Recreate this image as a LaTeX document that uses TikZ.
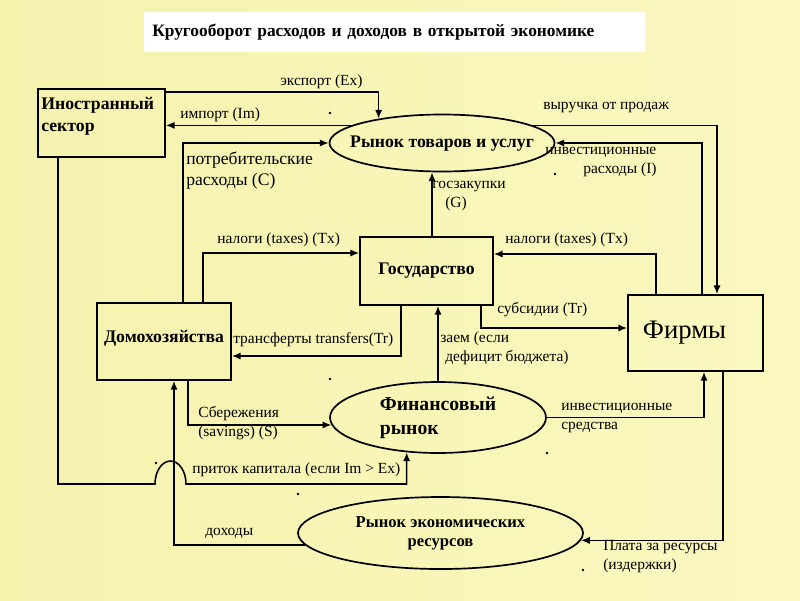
\documentclass[tikz,border=0pt]{standalone}
\usepackage{fontspec}
\setmainfont{Liberation Serif}
\usetikzlibrary{arrows.meta, positioning, calc, shapes.geometric}
\newdimen\px \px=0.025cm
\newcommand{\ovaltext}[2][c]{\makebox[0pt]{\begin{tabular}{@{}#1@{}}#2\end{tabular}}}

\begin{document}
\begin{tikzpicture}[
      x=0.025cm, y=-0.025cm,
      box/.style={rectangle, draw, line width=1.2pt, inner sep=2pt},
      market/.style={ellipse, draw, line width=1.2pt, inner sep=0pt},
      head/.style={font=\fontsize{12.6}{14.5}\selectfont\bfseries},
      lbl/.style={font=\fontsize{11}{13.5}\selectfont, anchor=west,
        align=left, inner sep=0pt},
      arrow/.style={-{Latex[length=2.2mm, width=1.8mm]}, line width=1.1pt}
    ]
    \useasboundingbox (0,0) rectangle (800,600);
    \shade[left color={rgb,255:red,246;green,242;blue,174},
           middle color={rgb,255:red,253;green,252;blue,222},
           right color={rgb,255:red,250;green,248;blue,192}] (0,0) rectangle (800,600);

    % ---- title ----
    \node[fill=white, anchor=north west, minimum width=501\px, minimum height=40\px,
          text width=485\px, inner xsep=8\px, align=left,
          font=\fontsize{12.35}{14}\selectfont\bfseries] (title) at (144,12)
      {Кругооборот расходов и доходов в открытой экономике};

    % ---- sectors and markets ----
    \node[box, minimum width=127\px, minimum height=68\px] (forn) at (101.5,123) {};
    \node[anchor=west, align=left, inner sep=0pt,
          font=\fontsize{12.6}{16}\selectfont\bfseries] (forn-txt) at (41,116.5)
      {Иностранный\\сектор};
    \node[market, minimum width=225\px, minimum height=57\px, head] (goods) at (442,143)
      {\ovaltext{Рынок товаров и услуг}};
    \node[box, minimum width=133\px, minimum height=68\px, head] (gov) at (426.5,271)
      {Государство};
    \node[box, minimum width=134\px, minimum height=77\px, head, text depth=10\px]
      (hh) at (164,341.5) {Домохозяйства};
    \node[box, minimum width=135\px, minimum height=76\px,
          font=\fontsize{19}{21}\selectfont] (firms) at (695.5,333)
      {Фирмы\kern22\px};
    \node[market, minimum width=216\px, minimum height=71\px,
          font=\fontsize{14}{17}\selectfont\bfseries] (fin) at (438,417.5)
      {\ovaltext[l]{Финансовый\\рынок}};
    \node[market, minimum width=285\px, minimum height=72\px,
          font=\fontsize{11.8}{14}\selectfont\bfseries] (res) at (440.5,533)
      {\ovaltext{Рынок экономических\\ресурсов}};

    % ---- flows round the goods market ----
    \draw[arrow] ($(forn.north east)+(0,4)$) -| (goods.159);
    \draw[arrow] (goods.169) -- (goods.169 -| forn.east);
    \draw[arrow] ($(hh.north)+(19,0)$) |- (goods.west);
    \draw[arrow] ($(gov.north)+(5.5,0)$) -- ($(goods.south)+(-10,0)$);
    \draw[arrow] (goods.11) -| ($(firms.north)+(21.5,0)$);
    \draw[arrow] ($(firms.north)+(6.5,0)$) |- (goods.east);

    % ---- government ----
    \draw[arrow] ($(hh.north)+(39,0)$) |- ($(gov.west)+(0,-18)$);
    \draw[arrow] ($(firms.north)+(-39.5,0)$) |- ($(gov.east)+(0,-17)$);
    \draw[arrow] ($(gov.south)+(54.5,0)$) |- ($(firms.west)+(0,-5)$);
    \draw[arrow] ($(gov.south)+(-25.5,0)$) |- ($(hh.east)+(0,14.5)$);
    \draw[arrow] (fin.north) -- (fin.north |- gov.south);

    % ---- financial market ----
    \draw[arrow] ($(hh.south)+(24,0)$) |- (fin.184);
    \draw[arrow] (fin.east) -| ($(firms.south)+(8.5,0)$);
    % capital inflow hops over the income line
    \coordinate (hop) at (155,484);
    \draw[arrow] ($(forn.south)+(-43.5,0)$) |- (hop)
      arc[start angle=180, end angle=0, x radius=15.5\px, y radius=23\px]
      -- (hop -| fin.228) -- (fin.228);

    % ---- resource market ----
    \draw[arrow] (res.185) -| ($(hh.south)+(10,0)$);
    \draw[arrow] ($(firms.south)+(27.5,0)$) |- (res.357);

    % ---- labels ----
    \node[lbl] (l-ex)   at (280,82)    {экспорт (Ex)};
    \node[lbl] (l-im)   at (180,115)   {импорт (Im)};
    \node[lbl, font=\fontsize{12.5}{15}\selectfont] (l-c) at (186,170.5)
      {потребительские\\расходы (C)};
    \node[lbl] (l-g)    at (432,196)   {госзакупки\\\hspace*{13\px}(G)};
    \node[lbl] (l-rev)  at (543,108)   {выручка от продаж};
    \node[lbl] (l-i)    at (545,162)   {инвестиционные\\\hspace*{38\px}расходы (I)};
    \node[lbl] (l-txh)  at (217,240)   {налоги (taxes) (Tx)};
    \node[lbl] (l-txf)  at (505,240)   {налоги (taxes) (Tx)};
    \node[lbl] (l-sub)  at (497,310)   {субсидии (Tr)};
    \node[lbl] (l-tr)   at (233,340)   {трансферты transfers(Tr)};
    \node[lbl] (l-loan) at (440,348)   {заем (если\\\hspace*{5\px}дефицит бюджета)};
    \node[lbl] (l-s)    at (198,423.5) {Сбережения\\(savings) (S)};
    \node[lbl] (l-if)   at (561,417.5) {инвестиционные\\средства};
    \node[lbl] (l-cap)  at (192,470)   {приток капитала (если Im > Ex)};
    \node[lbl] (l-inc)  at (205,533)   {доходы};
    \node[lbl] (l-pay)  at (603,556.5) {Плата за ресурсы\\(издержки)};

    % stray dots
    \foreach \x/\y in {330/113, 555/174, 330/379, 156/463, 547/453, 298/494, 583/570}
      \fill (\x,\y) circle[radius=1.3\px];
  \end{tikzpicture}
\end{document}
